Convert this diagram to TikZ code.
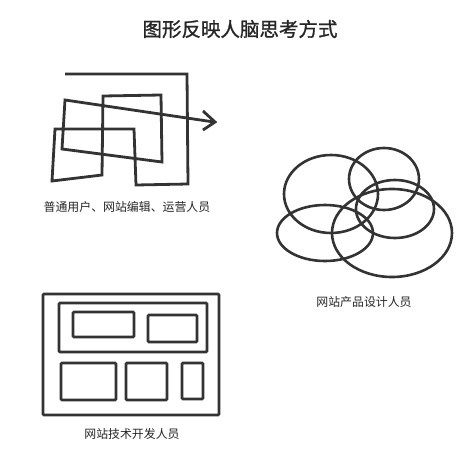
\documentclass[tikz,border=0pt]{standalone}
\usepackage{fontspec}
\newfontfamily\cjk{Noto Sans CJK SC}
\newfontfamily\cjkt[FakeBold=1.2]{Noto Sans CJK SC}
\begin{document}
\begin{tikzpicture}[x=1pt,y=-1pt,
  ink/.style={draw=black!80,line width=2.8pt},
  box/.style={ink,rounded corners=1pt},
  ring/.style={ink,line width=2.6pt},
  caption/.style={font=\cjk\fontsize{11.9}{13}\selectfont,text=black!85,inner sep=0pt},
  ttl/.style={font=\cjkt\fontsize{19.5}{21}\selectfont,text=black!85,inner sep=0pt}]
\useasboundingbox (0,0) rectangle (475,461);
\fill[white] (0,0) rectangle (475,461);
% title
\node[ttl] (title) at (240,29) {图形反映人脑思考方式};
% scribble
\draw[ink,line join=miter] (65,74) -- (187,74) -- (188,184) -- (136,185) -- (134,129)
  -- (55,129) -- (52,181) -- (102,175) -- (103,96) -- (161,95) -- (162,162)
  -- (62,149) -- (65,100) -- (214,122);
\draw[ink,line join=miter] (203,111) -- (215,122) -- (203,130);
\node[caption] (users) at (127,207) {普通用户、网站编辑、运营人员};
% ellipses
\draw[ring] (331,194) ellipse[x radius=47,y radius=39];
\draw[ring] (384,179) ellipse[x radius=35,y radius=31];
\draw[ring] (395,209) ellipse[x radius=39,y radius=29];
\draw[ring] (325,233) ellipse[x radius=48,y radius=28];
\draw[ring] (392,233) ellipse[x radius=60,y radius=44];
\node[caption] (design) at (364,302) {网站产品设计人员};
% rectangles
\draw[box] (43,294) rectangle (219,415);
\draw[box] (59,303) rectangle (207,352);
\draw[box] (73,312) rectangle (134,337);
\draw[box] (148,315) rectangle (197,342);
\draw[box] (61,363) rectangle (116,400);
\draw[box] (126,363) rectangle (167,400);
\draw[box] (182,363) rectangle (203,399);
\node[caption] (dev) at (132,434) {网站技术开发人员};
\end{tikzpicture}
\end{document}
